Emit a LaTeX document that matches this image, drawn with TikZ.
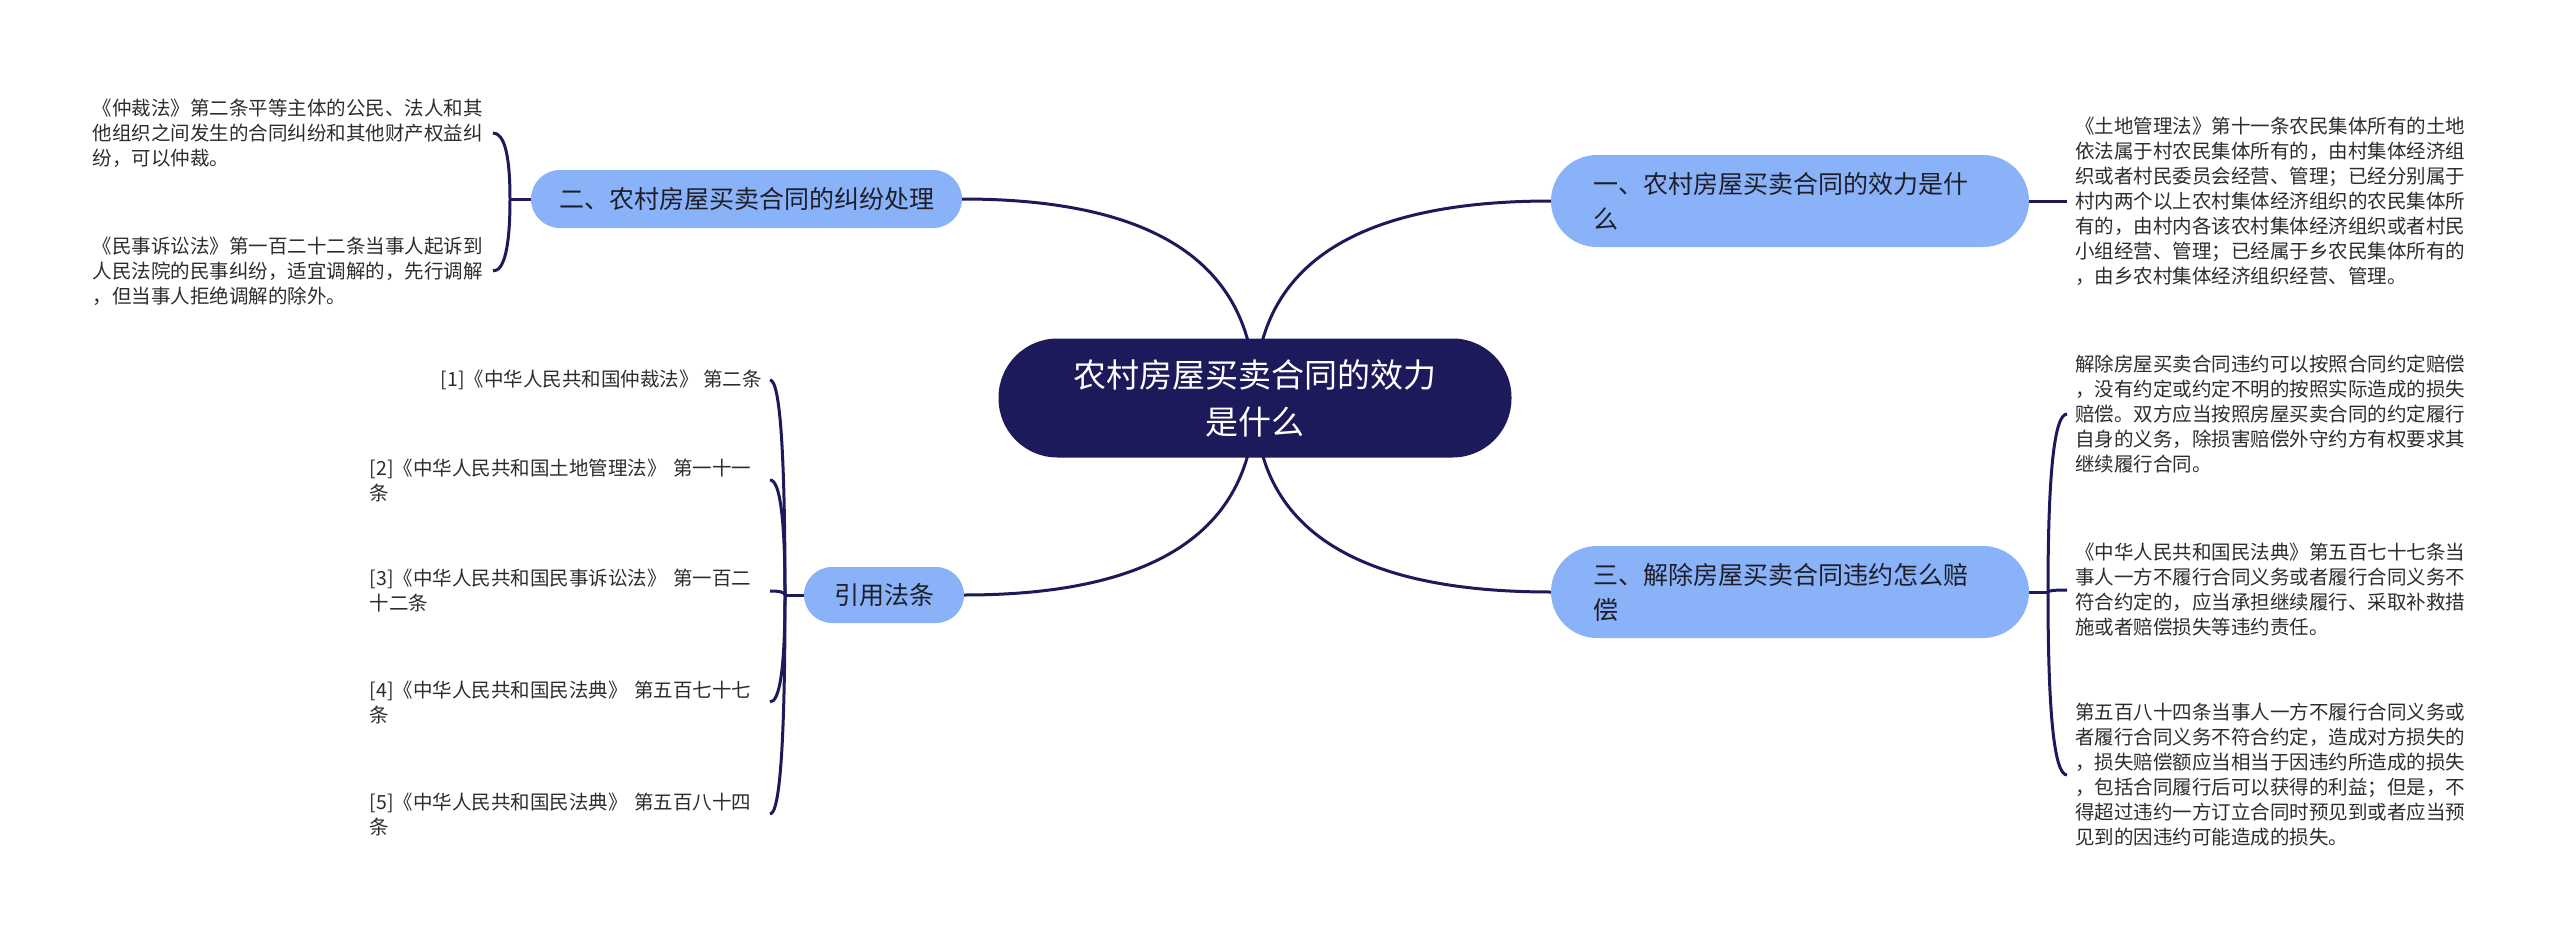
\documentclass[tikz,border=0pt]{standalone}
\usepackage{fontspec}
\setmainfont{Noto Sans CJK SC}
\usetikzlibrary{backgrounds,calc}
\definecolor{navy}{RGB}{28,26,90}
\definecolor{childblue}{RGB}{138,178,248}
\definecolor{leaftext}{RGB}{45,45,45}
\definecolor{childtext}{RGB}{30,30,40}
\newcommand\mmlink[2]{\draw[link] (#1) .. controls ($(#1)!0.667!(#1|-#2)$) and ($(#2)!0.667!(#1|-#2)$) .. (#2);}
\begin{document}
\begin{tikzpicture}[x=1pt,y=-1pt,
  centralbox/.style={fill=navy, text=white, rounded corners=59pt, minimum width=513pt, minimum height=119pt, align=center, font=\fontsize{33pt}{47pt}\selectfont, inner sep=0pt},
  childbox/.style={fill=childblue, text=childtext, font=\fontsize{25pt}{35pt}\selectfont, inner ysep=0pt},
  twoline/.style={childbox, text width=394pt, inner xsep=42pt, minimum height=92pt, rounded corners=46pt, align=left},
  leafbox/.style={text=leaftext, font=\fontsize{19.5pt}{25pt}\selectfont, inner xsep=8pt, inner ysep=2pt},
  multileaf/.style={leafbox, text width=392pt, align=left},
  link/.style={draw=navy, line width=3pt},
]
\useasboundingbox (0,0) rectangle (2560,942);

\node[centralbox] (c) at (1255,398) {农村房屋买卖合同的效力\\是什么};

\node[twoline] (n1) at (1790,201) {一、农村房屋买卖合同的效力是什\\么};
\node[twoline] (n3) at (1790,592) {三、解除房屋买卖合同违约怎么赔\\偿};
\node[childbox, inner xsep=28pt, minimum height=58pt, rounded corners=29pt] (n2) at (746.5,199) {二、农村房屋买卖合同的纠纷处理};
\node[childbox, inner xsep=30pt, minimum height=56pt, rounded corners=28pt] (ref) at (884,595) {引用法条};

% leaves of n2
\node[multileaf, anchor=east] (l21) at (493,133) {《仲裁法》第二条平等主体的公民、法人和其\\他组织之间发生的合同纠纷和其他财产权益纠\\纷，可以仲裁。};
\node[multileaf, anchor=east] (l22) at (493,271) {《民事诉讼法》第一百二十二条当事人起诉到\\人民法院的民事纠纷，适宜调解的，先行调解\\，但当事人拒绝调解的除外。};

% leaves of ref
\node[leafbox, anchor=east] (r1) at (770,380) {[1]《中华人民共和国仲裁法》 第二条};
\node[multileaf, anchor=east] (r2) at (770,480) {[2]《中华人民共和国土地管理法》 第一十一\\条};
\node[multileaf, anchor=east] (r3) at (770,591) {[3]《中华人民共和国民事诉讼法》 第一百二\\十二条};
\node[multileaf, anchor=east] (r4) at (770,702) {[4]《中华人民共和国民法典》 第五百七十七\\条};
\node[multileaf, anchor=east] (r5) at (770,814) {[5]《中华人民共和国民法典》 第五百八十四\\条};

% leaf of n1
\node[multileaf, anchor=west] (l1) at (2067,201) {《土地管理法》第十一条农民集体所有的土地\\依法属于村农民集体所有的，由村集体经济组\\织或者村民委员会经营、管理；已经分别属于\\村内两个以上农村集体经济组织的农民集体所\\有的，由村内各该农村集体经济组织或者村民\\小组经营、管理；已经属于乡农民集体所有的\\，由乡农村集体经济组织经营、管理。};

% leaves of n3
\node[multileaf, anchor=west] (l3a) at (2067,414) {解除房屋买卖合同违约可以按照合同约定赔偿\\，没有约定或约定不明的按照实际造成的损失\\赔偿。双方应当按照房屋买卖合同的约定履行\\自身的义务，除损害赔偿外守约方有权要求其\\继续履行合同。};
\node[multileaf, anchor=west] (l3b) at (2067,590) {《中华人民共和国民法典》第五百七十七条当\\事人一方不履行合同义务或者履行合同义务不\\符合约定的，应当承担继续履行、采取补救措\\施或者赔偿损失等违约责任。};
\node[multileaf, anchor=west] (l3c) at (2067,775) {第五百八十四条当事人一方不履行合同义务或\\者履行合同义务不符合约定，造成对方损失的\\，损失赔偿额应当相当于因违约所造成的损失\\，包括合同履行后可以获得的利益；但是，不\\得超过违约一方订立合同时预见到或者应当预\\见到的因违约可能造成的损失。};

\coordinate (j2) at (510,199);
\coordinate (jr) at (785,595);
\coordinate (j3) at (2048,592);

\begin{scope}[on background layer]
\fill[white] (0,0) rectangle (2560,942);
\mmlink{c.center}{n1.west}
\mmlink{c.center}{n2.east}
\mmlink{c.center}{n3.west}
\mmlink{c.center}{ref.east}
\draw[link] (n1.east) -- (l1.west);
\draw[link] (n2.west) -- (j2);
\mmlink{j2}{l21.east}
\mmlink{j2}{l22.east}
\draw[link] (ref.west) -- (jr);
\mmlink{jr}{r1.east}
\mmlink{jr}{r2.east}
\mmlink{jr}{r3.east}
\mmlink{jr}{r4.east}
\mmlink{jr}{r5.east}
\draw[link] (n3.east) -- (j3);
\mmlink{j3}{l3a.west}
\mmlink{j3}{l3b.west}
\mmlink{j3}{l3c.west}
\end{scope}
\end{tikzpicture}
\end{document}
